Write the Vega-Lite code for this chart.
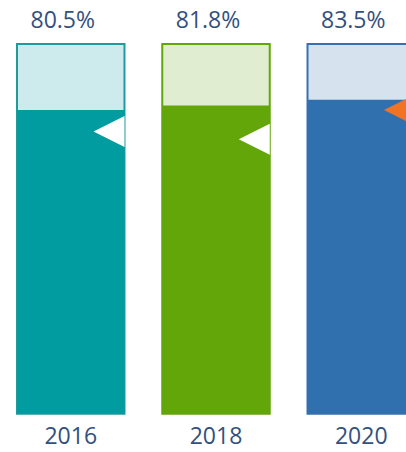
{
  "$schema": "https://vega.github.io/schema/vega-lite/v6.json",
  "width": 406,
  "height": 369.7,
  "autosize": {"type": "none"},
  "padding": {"left": 0, "right": 0, "top": 44, "bottom": 38.3},
  "background": "white",
  "config": {"view": {"stroke": null}, "font": "Open Sans"},
  "data": {
    "values": [
      {"year": "2016", "value": 80.5, "label": "80.5%", "marker": 74.1},
      {"year": "2018", "value": 81.8, "label": "81.8%", "marker": 71.8},
      {"year": "2020", "value": 83.5, "label": "83.5%", "marker": 80.5}
    ]
  },
  "encoding": {
    "x": {
      "field": "year",
      "type": "nominal",
      "sort": null,
      "scale": {"range": [17, 415], "paddingInner": 0.26, "paddingOuter": 0},
      "axis": {
        "title": null,
        "domain": false,
        "ticks": false,
        "tickSize": 0,
        "labelPadding": 12,
        "labelAngle": 0,
        "labelFontSize": 23,
        "labelColor": "#33507e",
        "labelFont": "Open Sans",
        "grid": false
      }
    }
  },
  "layer": [
    {
      "mark": {"type": "bar", "strokeWidth": 2},
      "encoding": {
        "y": {"datum": 100, "type": "quantitative", "scale": {"domain": [-9.4, 100], "zero": false, "nice": false}, "axis": null},
        "y2": {"datum": -9.4},
        "fill": {"field": "year", "type": "nominal", "legend": null, "scale": {"domain": ["2016", "2018", "2020"], "range": ["#cdebec", "#e0edd0", "#d6e2ee"]}},
        "stroke": {"field": "year", "type": "nominal", "legend": null, "scale": {"domain": ["2016", "2018", "2020"], "range": ["#23999c", "#62a60a", "#3a6fb2"]}}
      }
    },
    {
      "mark": {"type": "bar"},
      "encoding": {
        "y": {"field": "value", "type": "quantitative"},
        "y2": {"datum": -9.4},
        "color": {"field": "year", "type": "nominal", "legend": null, "scale": {"domain": ["2016", "2018", "2020"], "range": ["#009ca0", "#62a60a", "#3170ae"]}}
      }
    },
    {
      "mark": {"type": "point", "shape": "M-1,0L0,-0.5L0,0.5Z", "size": 3844, "filled": true, "opacity": 1, "strokeWidth": 0},
      "encoding": {
        "x": {"field": "year", "type": "nominal", "sort": null, "bandPosition": 1},
        "y": {"field": "marker", "type": "quantitative"},
        "fill": {"condition": {"test": "datum.year == '2020'", "value": "#f37325"}, "value": "white"}
      }
    },
    {
      "mark": {"type": "text", "fontSize": 23, "font": "Open Sans", "color": "#33507e", "baseline": "alphabetic", "dy": -16, "dx": -8},
      "encoding": {
        "y": {"datum": 100, "type": "quantitative"},
        "text": {"field": "label", "type": "nominal"}
      }
    }
  ]
}
